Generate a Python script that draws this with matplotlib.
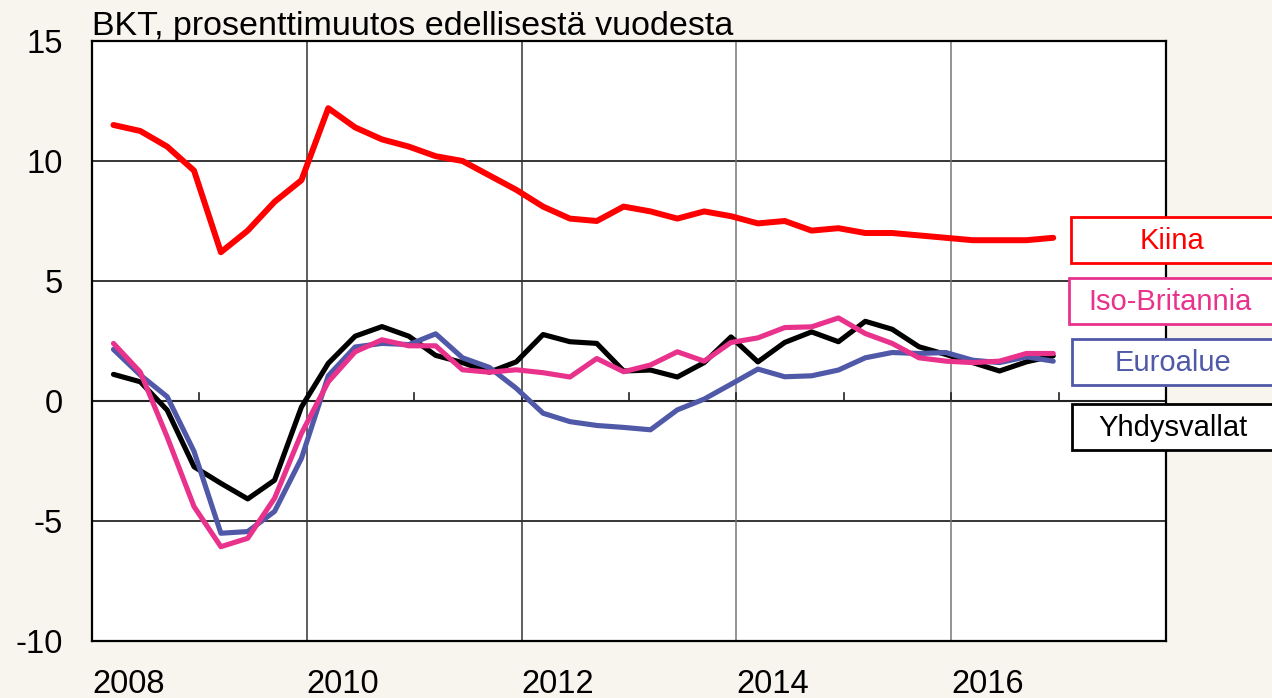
import numpy as np
import matplotlib
matplotlib.use("Agg")
import matplotlib.pyplot as plt
from matplotlib.patches import Rectangle

plt.rcParams['font.family'] = ['Liberation Sans', 'DejaVu Sans']

# Neljännesvuosittaiset havainnot 2008Q1 - 2016Q4
kiina = [11.5, 11.25, 10.6, 9.6, 6.2, 7.1, 8.3, 9.2,
         12.2, 11.4, 10.9, 10.6, 10.2, 10.0, 9.4, 8.8,
         8.1, 7.6, 7.5, 8.1, 7.9, 7.6, 7.9, 7.7,
         7.4, 7.5, 7.1, 7.2, 7.0, 7.0, 6.9, 6.8,
         6.7, 6.7, 6.7, 6.8]
iso_britannia = [2.4, 1.2, -1.5, -4.4, -6.07, -5.72, -4.05, -1.35,
                 0.8, 2.05, 2.55, 2.3, 2.3, 1.3, 1.2, 1.3,
                 1.18, 1.0, 1.77, 1.22, 1.5, 2.05, 1.66, 2.44,
                 2.63, 3.06, 3.09, 3.46, 2.81, 2.4, 1.8, 1.66,
                 1.6, 1.66, 1.98, 1.98]
euroalue = [2.15, 1.08, 0.18, -2.1, -5.51, -5.44, -4.6, -2.39,
            1.05, 2.25, 2.4, 2.35, 2.8, 1.8, 1.4, 0.53,
            -0.51, -0.86, -1.02, -1.1, -1.2, -0.37, 0.08, 0.7,
            1.33, 1.01, 1.05, 1.29, 1.8, 2.02, 1.98, 2.02,
            1.7, 1.6, 1.84, 1.66]
yhdysvallat = [1.11, 0.8, -0.38, -2.74, -3.43, -4.08, -3.3, -0.25,
               1.57, 2.7, 3.1, 2.7, 1.9, 1.6, 1.2, 1.63,
               2.77, 2.47, 2.4, 1.25, 1.29, 1.0, 1.6, 2.67,
               1.63, 2.44, 2.88, 2.47, 3.32, 2.99, 2.26, 1.94,
               1.6, 1.25, 1.63, 1.88]

vuodet = [2008, 2010, 2012, 2014, 2016]
sarjat = ['Kiina', 'Iso-Britannia', 'Euroalue', 'Yhdysvallat']
varit = ['#ff0000', '#e8328c', '#5058a8', '#000000']

x = 2008.2 + np.arange(len(kiina)) / 4

bg = '#f8f4ee'
fig = plt.figure(figsize=(12.72, 6.98), dpi=100, facecolor=bg)
ax = fig.add_axes([92 / 1272, 57 / 698, 1074 / 1272, 600 / 698])
ax.set_facecolor('white')

ax.set_xlim(2008, 2018)
ax.set_ylim(-10, 15)

# ruudukko
for yv in [10, 5, -5]:
    ax.axhline(yv, color='black', lw=1.1, zorder=1)
ax.axhline(0, color='#222222', lw=1.5, zorder=1)
for v in vuodet[1:]:
    ax.axvline(v, color='#333333' if v < 2014 else '#777777', lw=1.1, zorder=1)
for v in range(2009, 2018):
    ax.plot([v, v], [0, 0.35], color='#222222', lw=1.2, zorder=1)

ax.plot(x, yhdysvallat, color=varit[3], lw=3.7, solid_capstyle='round', zorder=3)
ax.plot(x, euroalue, color=varit[2], lw=3.7, solid_capstyle='round', zorder=3)
ax.plot(x, iso_britannia, color=varit[1], lw=3.7, solid_capstyle='round', zorder=4)
ax.plot(x, kiina, color=varit[0], lw=4.3, solid_capstyle='round', zorder=5)

for s in ax.spines.values():
    s.set_linewidth(1.6)
    s.set_color('black')

ax.set_yticks([-10, -5, 0, 5, 10, 15])
ax.set_yticklabels(['-10', '-5', '0', '5', '10', '15'])
ax.tick_params(axis='y', length=0, pad=21, labelsize=23.5)
ax.set_xticks(vuodet)
ax.set_xticklabels([str(v) for v in vuodet], ha='left')
ax.tick_params(axis='x', length=0, pad=20, labelsize=23.5)

fig.text(92 / 1272, 1 - 35 / 698, 'BKT, prosenttimuutos edellisestä vuodesta',
         fontsize=24.5, ha='left', va='baseline')

# selitelaatikot
laatikot = [(1071, 217), (1069, 278), (1072, 339), (1072, 404)]
for (bx, by), nimi, vari in zip(laatikot, sarjat, varit):
    w, h = 205, 46
    fig.patches.append(Rectangle((bx / 1272, 1 - (by + h) / 698), w / 1272, h / 698,
                                 transform=fig.transFigure, facecolor='white',
                                 edgecolor=vari, lw=2, zorder=10))
    fig.text((bx + 101) / 1272, 1 - (by + h / 2 + 1) / 698, nimi, color=vari,
             fontsize=21, ha='center', va='center', zorder=11)

fig.savefig('out.png', dpi=100, facecolor=bg)
